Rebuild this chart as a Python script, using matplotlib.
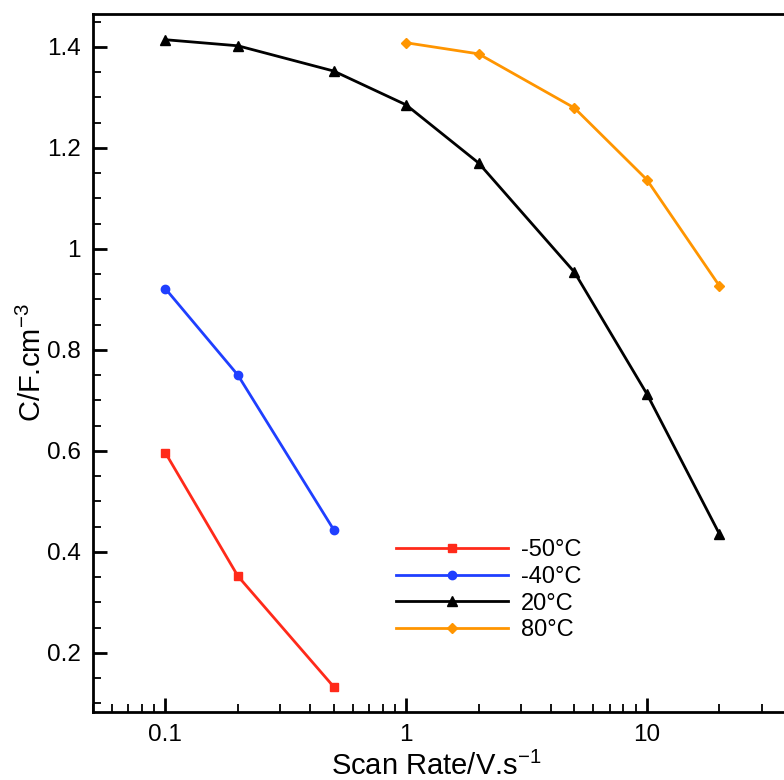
import matplotlib.pyplot as plt
from matplotlib.ticker import MultipleLocator, FixedLocator, FixedFormatter

plt.rcParams["font.family"] = ["Liberation Sans", "DejaVu Sans"]
plt.rcParams["mathtext.fontset"] = "custom"
plt.rcParams["mathtext.rm"] = "Liberation Sans"
plt.rcParams["mathtext.it"] = "Liberation Sans"
plt.rcParams["mathtext.default"] = "regular"

# data
rate_low = [0.1, 0.2, 0.5]
cap_m50 = [0.596, 0.352, 0.133]
cap_m40 = [0.921, 0.750, 0.444]
rate_20 = [0.1, 0.2, 0.5, 1, 2, 5, 10, 20]
cap_20 = [1.414, 1.402, 1.352, 1.285, 1.170, 0.954, 0.713, 0.436]
rate_80 = [1, 2, 5, 10, 20]
cap_80 = [1.408, 1.386, 1.279, 1.137, 0.927]

fig = plt.figure(figsize=(7.84, 7.80), dpi=100)
ax = fig.add_axes([0.1186, 0.0872, 0.921, 0.8949])

ax.plot(rate_low, cap_m50, color="#ff2a1a", marker="s", ms=6, lw=2, label="-50°C")
ax.plot(rate_low, cap_m40, color="#1f3fff", marker="o", ms=6, lw=2, label="-40°C")
ax.plot(rate_20, cap_20, color="black", marker="^", ms=7, lw=2, label="20°C")
ax.plot(rate_80, cap_80, color="#ff9500", marker="D", ms=5.5, lw=2, label="80°C")

ax.set_xscale("log")
ax.set_xlim(0.05, 50)
ax.set_ylim(0.083, 1.465)
ax.xaxis.set_major_locator(FixedLocator([0.1, 1, 10]))
ax.xaxis.set_major_formatter(FixedFormatter(["0.1", "1", "10"]))
ax.yaxis.set_major_locator(MultipleLocator(0.2))
ax.yaxis.set_minor_locator(MultipleLocator(0.05))
ax.yaxis.set_major_formatter(plt.FuncFormatter(lambda v, p: f"{v:g}"))

ax.tick_params(which="major", direction="in", length=10, width=2, labelsize=17.5, pad=9)
ax.tick_params(axis="x", which="major", pad=9)
ax.tick_params(which="minor", direction="in", length=6, width=1.3)
for s in ax.spines.values():
    s.set_linewidth(2)

ax.set_xlabel("Scan Rate/V.s$^{-1}$", fontsize=21)
ax.xaxis.set_label_coords(0.476, -0.057)
ax.set_ylabel("C/F.cm$^{-3}$", fontsize=21, labelpad=0)

ax.legend(frameon=False, fontsize=17, handlelength=4.75, handletextpad=0.55,
          labelspacing=0.2, loc="upper left", bbox_to_anchor=(0.39, 0.278))

fig.savefig("out.png", dpi=100)
